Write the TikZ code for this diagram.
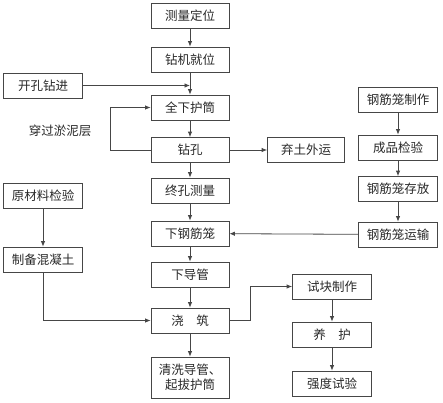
\documentclass[tikz,border=0pt]{standalone}
\usepackage{fontspec}
\setmainfont{Noto Sans CJK SC}
\usetikzlibrary{arrows,arrows.meta}
\definecolor{linegray}{RGB}{70,70,70}
\definecolor{textgray}{RGB}{40,40,40}

\begin{document}
\begin{tikzpicture}[x=1pt, y=-1pt, >={Latex[length=5.5pt,width=4.5pt]},
		box/.style={draw=linegray, line width=0.8pt, minimum width=78pt, minimum height=25pt, inner sep=2pt, text=textgray, font=\fontsize{12.5}{15}\selectfont},
		flow/.style={->, draw=linegray, line width=0.8pt}]
								\useasboundingbox (0, 0) rectangle (443, 402);
								\node[box] (cl) at (190, 16) {测量定位};
								\node[box] (jw) at (190, 59.5) {钻机就位};
								\node[box, minimum width=79pt] (kk) at (43, 85.5) {开孔钻进};
								\node[box] (qx) at (190, 107.5) {全下护筒};
								\node[box] (zk) at (190, 150) {钻孔};
								\node[box, minimum width=77pt] (qt) at (306, 150) {弃土外运};
								\node[text=textgray, font=\fontsize{12.5}{15}\selectfont] (ny) at (60, 131) {穿过淤泥层};
								\node[box] (zc) at (190, 190.5) {终孔测量};
								\node[box] (xg) at (190, 233.5) {下钢筋笼};
								\node[box] (dg) at (190, 274.5) {下导管};
								\node[box] (jz) at (190, 320.5) {浇\hspace{1em}筑};
								\node[box, minimum height=41pt, align=center] (qxd) at (190, 377.5) {清洗导管、\\起拔护筒};
								\node[box, minimum width=79pt] (gz) at (398, 100) {钢筋笼制作};
								\node[box, minimum width=79pt] (cj) at (398, 147.5) {成品检验};
								\node[box, minimum width=79pt] (cf) at (398, 189) {钢筋笼存放};
								\node[box, minimum width=79pt] (ys) at (398, 234.5) {钢筋笼运输};
								\node[box, minimum width=79pt] (yc) at (43, 196) {原材料检验};
								\node[box, minimum width=79pt] (zb) at (43, 259.5) {制备混凝土};
								\node[box, minimum width=79pt] (sk) at (332, 286.5) {试块制作};
								\node[box, minimum width=79pt] (yh) at (332, 334.5) {养\hspace{1em}护};
								\node[box, minimum width=79pt] (qd) at (332, 383.5) {强度试验};
								\foreach \a/\b in {cl/jw, jw/qx, qx/zk, zk/zc, zc/xg, xg/dg, dg/jz, jz/qxd, gz/cj, cj/cf, cf/ys, yc/zb, sk/yh, yh/qd}
									\draw[flow] (\a) -- (\b);
								\draw[flow] (kk) -- (kk -| jw.south);
								\draw[flow] (zk.west) -- ++(-40, 0) |- (qx.west);
								\draw[flow] (zk) -- (qt);
								\draw[flow] (ys) -- (xg);
								\draw[flow] (zb.south) |- (jz.west);
								\draw[flow] (jz.east) -- ++(21, 0) |- (sk.west);
							\end{tikzpicture}
\end{document}
